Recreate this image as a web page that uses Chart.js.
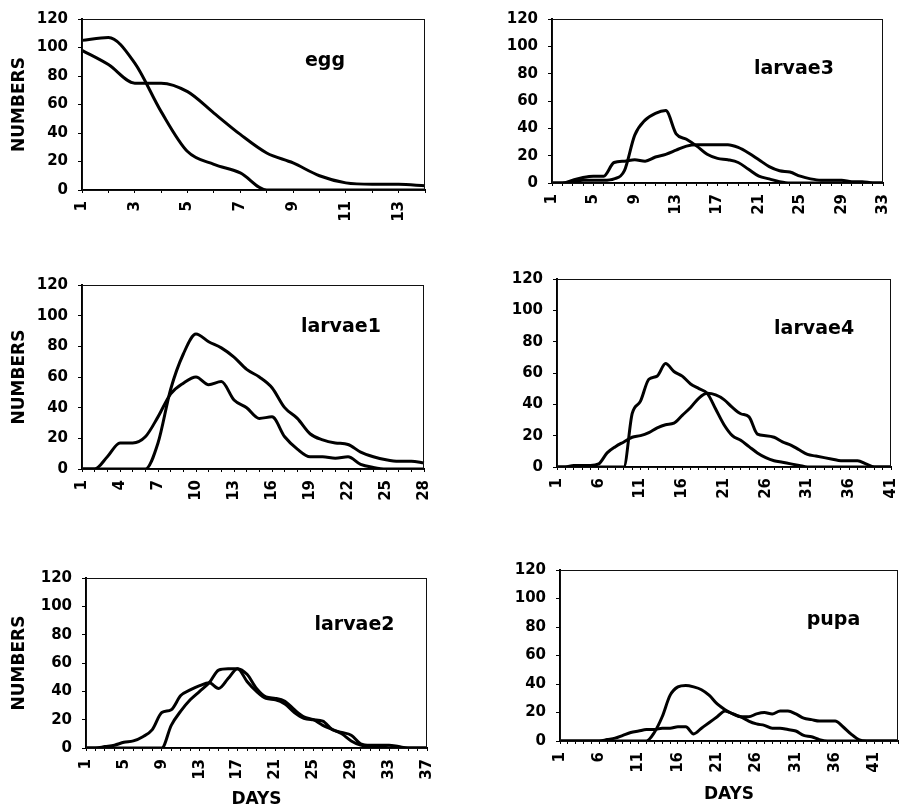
<!DOCTYPE html>
<html>
<head>
<meta charset="utf-8">
<script src="https://cdn.jsdelivr.net/npm/chart.js@4.4.1/dist/chart.umd.min.js"></script>
<style>
    body { margin: 0; background: #fff; }
    canvas { position: absolute; }
</style>
</head>
<body>
<canvas id="egg" width="450" height="260" style="left:0;top:0"></canvas>
<canvas id="larvae3" width="451" height="260" style="left:450px;top:0"></canvas>
<canvas id="larvae1" width="450" height="270" style="left:0;top:260px"></canvas>
<canvas id="larvae4" width="451" height="270" style="left:450px;top:260px"></canvas>
<canvas id="larvae2" width="450" height="281" style="left:0;top:530px"></canvas>
<canvas id="pupa" width="451" height="281" style="left:450px;top:530px"></canvas>
<script>
// Les jours (categories) de chaque graphique
const eggDays = [1, 2, 3, 4, 5, 6, 7, 8, 9, 10, 11, 12, 13, 14]
const larvae3Days = [1, 2, 3, 4, 5, 6, 7, 8, 9, 10, 11, 12, 13, 14, 15, 16, 17, 18, 19, 20, 21, 22, 23, 24, 25, 26, 27, 28, 29, 30, 31, 32, 33]
const larvae1Days = [1, 2, 3, 4, 5, 6, 7, 8, 9, 10, 11, 12, 13, 14, 15, 16, 17, 18, 19, 20, 21, 22, 23, 24, 25, 26, 27, 28]
const larvae4Days = [1, 2, 3, 4, 5, 6, 7, 8, 9, 10, 11, 12, 13, 14, 15, 16, 17, 18, 19, 20, 21, 22, 23, 24, 25, 26, 27, 28, 29, 30, 31, 32, 33, 34, 35, 36, 37, 38, 39, 40, 41]
const larvae2Days = [1, 2, 3, 4, 5, 6, 7, 8, 9, 10, 11, 12, 13, 14, 15, 16, 17, 18, 19, 20, 21, 22, 23, 24, 25, 26, 27, 28, 29, 30, 31, 32, 33, 34, 35, 36, 37]
const pupaDays = [1, 2, 3, 4, 5, 6, 7, 8, 9, 10, 11, 12, 13, 14, 15, 16, 17, 18, 19, 20, 21, 22, 23, 24, 25, 26, 27, 28, 29, 30, 31, 32, 33, 34, 35, 36, 37, 38, 39, 40, 41, 42, 43, 44]

// Les jours affiches sous l'axe des x
const eggTicks = [1, 3, 5, 7, 9, 11, 13]
const larvae3Ticks = [1, 5, 9, 13, 17, 21, 25, 29, 33]
const larvae1Ticks = [1, 4, 7, 10, 13, 16, 19, 22, 25, 28]
const larvae4Ticks = [1, 6, 11, 16, 21, 26, 31, 36, 41]
const larvae2Ticks = [1, 5, 9, 13, 17, 21, 25, 29, 33, 37]
const pupaTicks = [1, 6, 11, 16, 21, 26, 31, 36, 41]

// Les valeurs de l'axe des y
const yTicks = [0, 20, 40, 60, 80, 100, 120]

// Les deux courbes de chaque stade
const eggA = [98, 88, 75, 75, 69, 54, 39, 26, 19, 10, 5, 4, 4, 3]
const eggB = [105, 107, 89, 55, 27, 18, 12, 0, 0, 0, 0, 0, 0, 0]
const larvae3A = [0, 0, 1, 2, 2, 2, 3, 9, 35, 46, 51, 53, 36, 32, 27, 21, 18, 17, 15, 10, 5, 3, 1, 0, 0, 0, 0, 0, 0, 0, 0, 0, 0]
const larvae3B = [0, 0, 2, 4, 5, 5, 15, 16, 17, 16, 19, 21, 24, 27, 28, 28, 28, 28, 26, 22, 17, 12, 9, 8, 5, 3, 2, 2, 2, 1, 1, 0, 0]
const larvae1A = [0, 0, 8, 17, 17, 21, 34, 49, 56, 60, 55, 57, 45, 40, 33, 34, 21, 13, 8, 8, 7, 8, 3, 1, 0, 0, 0, 0]
const larvae1B = [0, 0, 0, 0, 0, 0, 17, 52, 75, 88, 83, 79, 73, 65, 60, 53, 40, 33, 23, 19, 17, 16, 11, 8, 6, 5, 5, 4]
const larvae4A = [0, 0, 0, 0, 0, 0, 0, 0, 0, 34, 42, 56, 58, 66, 61, 58, 53, 50, 47, 37, 27, 20, 17, 13, 9, 6, 4, 3, 2, 1, 0, 0, 0, 0, 0, 0, 0, 0, 0, 0, 0]
const larvae4B = [0, 0, 1, 1, 1, 2, 9, 13, 16, 19, 20, 22, 25, 27, 28, 33, 38, 44, 47, 46, 43, 38, 34, 32, 21, 20, 19, 16, 14, 11, 8, 7, 6, 5, 4, 4, 4, 2, 0, 0, 0]
const larvae2A = [0, 0, 1, 2, 4, 5, 8, 13, 25, 27, 37, 41, 44, 46, 42, 49, 56, 47, 40, 35, 34, 31, 25, 21, 20, 19, 13, 11, 9, 3, 2, 2, 2, 1, 0, 0, 0]
const larvae2B = [0, 0, 0, 0, 0, 0, 0, 0, 0, 16, 26, 34, 40, 46, 55, 56, 56, 52, 42, 36, 35, 33, 27, 22, 20, 16, 13, 10, 5, 2, 1, 1, 0, 0, 0, 0, 0]
const pupaA = [0, 0, 0, 0, 0, 0, 0, 0, 0, 0, 0, 0, 6, 17, 32, 38, 39, 38, 36, 32, 26, 22, 19, 17, 14, 12, 11, 9, 9, 8, 7, 4, 3, 1, 0, 0, 0, 0, 0, 0, 0, 0, 0, 0]
const pupaB = [0, 0, 0, 0, 0, 0, 1, 2, 4, 6, 7, 8, 8, 9, 9, 10, 10, 5, 9, 13, 17, 21, 19, 17, 17, 19, 20, 19, 21, 21, 19, 16, 15, 14, 14, 14, 10, 5, 1, 0, 0, 0, 0, 0]

const police = "DejaVu Sans"

// Plugin pour le cadre autour de la zone du graphique et le nom du stade
const cadreEtTitre = {
    id: "cadreEtTitre",
    afterDraw(chart, args, opts) {
        const { ctx, chartArea } = chart
        ctx.save()
        ctx.strokeStyle = "#111"
        ctx.lineWidth = 1
        ctx.strokeRect(chartArea.left + 0.5, chartArea.top + 0.5, chartArea.width - 1, chartArea.height)
        ctx.fillStyle = "#000"
        ctx.font = "bold 19px '" + police + "'"
        ctx.textBaseline = "alphabetic"
        ctx.fillText(opts.text, chartArea.left + opts.x * chartArea.width, chartArea.top + opts.y)
        ctx.restore()
    }
}

// Fonction pour creer un graphique
function createChart(id, days, serieA, serieB, ticksX, mise) {
    const ligne = (data) => ({
        data: data,
        borderColor: "#000",
        borderWidth: 3,
        pointRadius: 0,
        cubicInterpolationMode: "monotone",
        fill: false
    })
    // eslint-disable-next-line no-undef
    new Chart(document.getElementById(id), {
        type: "line",
        data: {
            labels: days,
            datasets: [ligne(serieA), ligne(serieB)]
        },
        options: {
            responsive: false,
            animation: false,
            layout: { padding: { top: mise.top, right: mise.right, left: 0, bottom: 0 } },
            scales: {
                x: {
                    // Hauteur fixe et pas de marge auto pour le dernier label
                    afterFit: (scale) => {
                        scale.height = mise.xHeight
                        scale.paddingRight = 0
                        scale.paddingLeft = 0
                    },
                    grid: { display: true, drawOnChartArea: false, tickLength: 3, color: "#000" },
                    border: { color: "#000", width: 2 },
                    ticks: {
                        autoSkip: false,
                        maxRotation: 90,
                        minRotation: 90,
                        padding: 8,
                        color: "#000",
                        font: { family: police, size: 15, weight: "bold" },
                        callback: function (value) {
                            const d = days[value]
                            return ticksX.includes(d) ? String(d) : ""
                        }
                    },
                    title: {
                        display: mise.days,
                        text: "DAYS",
                        color: "#000",
                        padding: { top: 0, bottom: mise.daysPad },
                        font: { family: police, size: 17, weight: "bold" }
                    }
                },
                y: {
                    min: 0,
                    max: 120,
                    afterFit: (scale) => { scale.width = mise.yWidth },
                    afterBuildTicks: (scale) => { scale.ticks = yTicks.map(v => ({ value: v })) },
                    grid: { display: true, drawOnChartArea: false, tickLength: 4, color: "#000" },
                    border: { color: "#000", width: 2 },
                    ticks: {
                        padding: 10,
                        color: "#000",
                        font: { family: police, size: 15, weight: "bold" }
                    },
                    title: {
                        display: mise.numbers,
                        text: "NUMBERS",
                        color: "#000",
                        padding: 9,
                        font: { family: police, size: 17, weight: "bold" }
                    }
                }
            },
            plugins: {
                legend: { display: false },
                tooltip: { enabled: false },
                cadreEtTitre: { text: mise.titre, x: mise.tx, y: mise.ty }
            }
        },
        plugins: [cadreEtTitre]
    })
}

createChart("egg", eggDays, eggA, eggB, eggTicks,
    { titre: "egg", tx: 0.65, ty: 47, top: 15, right: 25, yWidth: 82, xHeight: 70, numbers: true, days: false, daysPad: 0 })
createChart("larvae3", larvae3Days, larvae3A, larvae3B, larvae3Ticks,
    { titre: "larvae3", tx: 0.61, ty: 55, top: 13, right: 18, yWidth: 102, xHeight: 77, numbers: false, days: false, daysPad: 0 })
createChart("larvae1", larvae1Days, larvae1A, larvae1B, larvae1Ticks,
    { titre: "larvae1", tx: 0.64, ty: 47, top: 25, right: 26, yWidth: 82, xHeight: 61, numbers: true, days: false, daysPad: 0 })
createChart("larvae4", larvae4Days, larvae4A, larvae4B, larvae4Ticks,
    { titre: "larvae4", tx: 0.65, ty: 55, top: 17, right: 10, yWidth: 107, xHeight: 63, numbers: false, days: false, daysPad: 0 })
createChart("larvae2", larvae2Days, larvae2A, larvae2B, larvae2Ticks,
    { titre: "larvae2", tx: 0.67, ty: 52, top: 48, right: 23, yWidth: 86, xHeight: 63, numbers: true, days: true, daysPad: 1 })
createChart("pupa", pupaDays, pupaA, pupaB, pupaTicks,
    { titre: "pupa", tx: 0.73, ty: 55, top: 40, right: 3, yWidth: 110, xHeight: 70, numbers: false, days: true, daysPad: 6 })
</script>
</body>
</html>
